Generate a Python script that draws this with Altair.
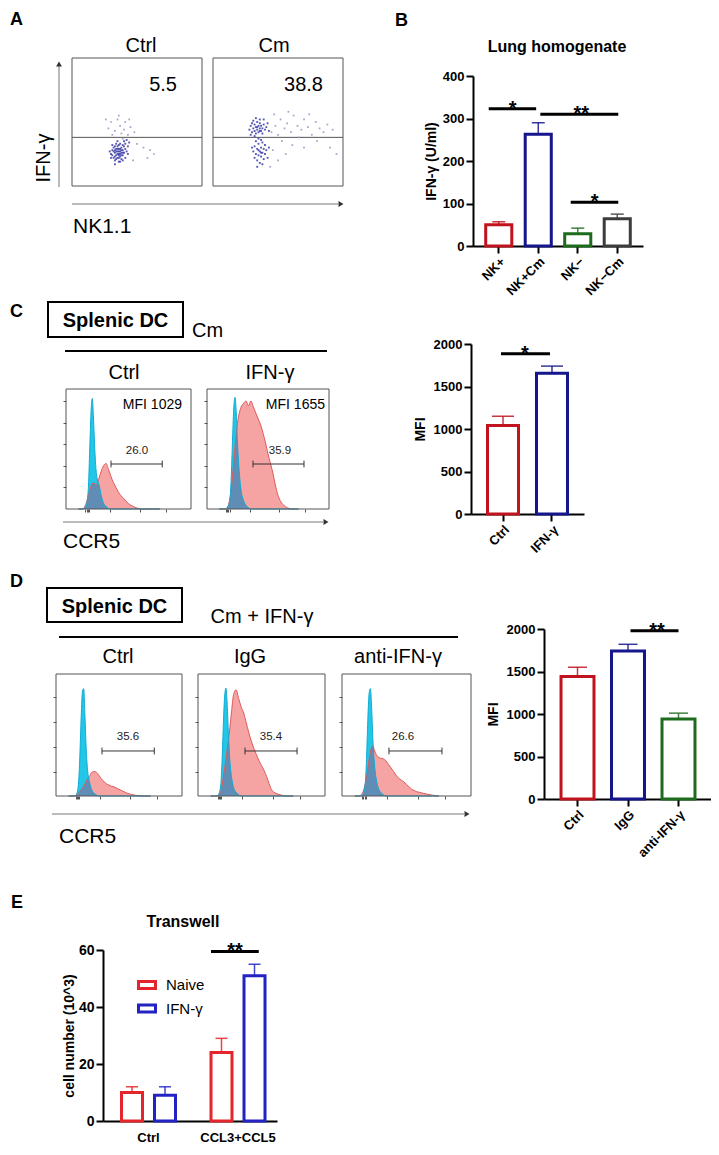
import altair as alt
import pandas as pd

W, H = 703, 1139      # drawing area; the page adds an 8px margin
M = 8
FONT = "Liberation Sans"

# ================================================================ DATA
# ---- A: IFN-γ vs NK1.1 dot plots (events as fractions of each frame)
a_titles = ["Ctrl", "Cm"]
a_percent = ["5.5", "38.8"]
a_gate = 0.38
a_ctrl_dense = [
    (0.30, 0.25), (0.31, 0.28), (0.32, 0.22), (0.32, 0.30), (0.33, 0.26), (0.33, 0.20), (0.34, 0.24),
    (0.34, 0.29), (0.34, 0.33), (0.35, 0.27), (0.35, 0.22), (0.35, 0.31), (0.36, 0.25), (0.36, 0.19),
    (0.36, 0.29), (0.37, 0.27), (0.37, 0.23), (0.37, 0.33), (0.38, 0.26), (0.38, 0.30), (0.38, 0.21),
    (0.39, 0.28), (0.39, 0.24), (0.40, 0.31), (0.40, 0.26), (0.41, 0.29), (0.41, 0.22), (0.42, 0.27),
    (0.31, 0.24), (0.32, 0.27), (0.33, 0.31), (0.34, 0.21), (0.35, 0.25), (0.36, 0.32), (0.36, 0.22),
    (0.37, 0.29), (0.38, 0.24), (0.39, 0.32), (0.40, 0.35), (0.41, 0.33), (0.42, 0.36), (0.43, 0.31),
    (0.44, 0.34), (0.29, 0.27), (0.30, 0.22), (0.33, 0.17), (0.35, 0.35), (0.37, 0.19), (0.39, 0.20),
    (0.43, 0.25), (0.31, 0.32), (0.33, 0.23), (0.34, 0.27), (0.36, 0.27), (0.37, 0.25), (0.38, 0.28),
    (0.35, 0.29), (0.33, 0.28), (0.39, 0.26), (0.36, 0.24)]
a_ctrl_sparse = [
    (0.28, 0.45), (0.30, 0.50), (0.33, 0.43), (0.35, 0.52), (0.37, 0.47), (0.38, 0.41), (0.40, 0.44),
    (0.41, 0.50), (0.43, 0.40), (0.45, 0.46), (0.36, 0.55), (0.31, 0.40), (0.48, 0.42), (0.44, 0.52),
    (0.55, 0.30), (0.60, 0.28), (0.63, 0.25), (0.58, 0.22), (0.50, 0.33), (0.47, 0.20), (0.26, 0.52),
    (0.39, 0.37)]
a_cm_dense = [
    (0.28, 0.44), (0.29, 0.47), (0.30, 0.42), (0.30, 0.49), (0.31, 0.45), (0.32, 0.43), (0.32, 0.48),
    (0.33, 0.46), (0.33, 0.41), (0.34, 0.44), (0.34, 0.50), (0.35, 0.47), (0.35, 0.42), (0.36, 0.45),
    (0.36, 0.49), (0.37, 0.43), (0.37, 0.47), (0.38, 0.45), (0.38, 0.41), (0.39, 0.48), (0.40, 0.44),
    (0.41, 0.46), (0.31, 0.51), (0.33, 0.53), (0.36, 0.52), (0.39, 0.52), (0.42, 0.49), (0.43, 0.43),
    (0.29, 0.40), (0.32, 0.39), (0.31, 0.27), (0.32, 0.22), (0.32, 0.31), (0.33, 0.25), (0.34, 0.29),
    (0.34, 0.20), (0.35, 0.24), (0.35, 0.33), (0.36, 0.27), (0.36, 0.18), (0.37, 0.30), (0.37, 0.23),
    (0.38, 0.26), (0.38, 0.34), (0.39, 0.21), (0.39, 0.29), (0.40, 0.25), (0.40, 0.32), (0.41, 0.28),
    (0.33, 0.35), (0.35, 0.37), (0.37, 0.36), (0.34, 0.15), (0.38, 0.17), (0.42, 0.22), (0.30, 0.30),
    (0.43, 0.30), (0.35, 0.28), (0.37, 0.26), (0.34, 0.46), (0.36, 0.43)]
a_cm_sparse = [
    (0.45, 0.42), (0.48, 0.47), (0.50, 0.40), (0.52, 0.52), (0.55, 0.45), (0.57, 0.49), (0.60, 0.42),
    (0.62, 0.55), (0.65, 0.47), (0.68, 0.44), (0.70, 0.52), (0.73, 0.46), (0.76, 0.40), (0.79, 0.50),
    (0.82, 0.45), (0.85, 0.42), (0.88, 0.48), (0.92, 0.44), (0.47, 0.56), (0.58, 0.58), (0.66, 0.38),
    (0.74, 0.56), (0.53, 0.35), (0.61, 0.32), (0.70, 0.30), (0.80, 0.35), (0.90, 0.30), (0.95, 0.25),
    (0.46, 0.28), (0.50, 0.20), (0.56, 0.25), (0.44, 0.15)]

# ---- B: lung homogenate IFN-γ
b_groups = ["NK+", "NK+Cm", "NK−", "NK−Cm"]
b_mean = [50, 263, 29, 64]
b_upper = [57, 290, 42, 75]
b_sig_from = ["NK+", "NK+Cm", "NK−"]
b_sig_to = ["NK+Cm", "NK−Cm", "NK−Cm"]
b_sig_y = [323, 310, 103]
b_sig_text = ["*", "**", "*"]

# ---- histograms (CCR5 intensity as fraction of frame, normalised count)
hist_x = [0.10, 0.13, 0.15, 0.165, 0.18, 0.19, 0.20, 0.21, 0.22, 0.23, 0.24, 0.25, 0.265, 0.28, 0.30,
          0.32, 0.34, 0.36, 0.38, 0.40, 0.42, 0.44, 0.46, 0.48, 0.50, 0.52, 0.54, 0.56, 0.58, 0.60,
          0.63, 0.66, 0.70, 0.75]
c1_iso = [0, 0, 0.01, 0.04, 0.2, 0.5, 0.8, 0.92, 0.75, 0.5, 0.33, 0.25, 0.2, 0.12, 0.05, 0.02, 0.005,
          0, 0, 0, 0, 0, 0, 0, 0, 0, 0, 0, 0, 0, 0, 0, 0, 0]
c1_ccr5 = [0, 0, 0.02, 0.06, 0.12, 0.16, 0.19, 0.21, 0.22, 0.21, 0.2, 0.21, 0.26, 0.31, 0.36, 0.38,
           0.33, 0.27, 0.22, 0.18, 0.14, 0.11, 0.09, 0.065, 0.045, 0.03, 0.02, 0.01, 0.005, 0, 0, 0, 0, 0]
c2_iso = [0, 0, 0, 0.01, 0.04, 0.1, 0.3, 0.6, 0.85, 0.93, 0.8, 0.55, 0.3, 0.15, 0.07, 0.03, 0.01,
          0, 0, 0, 0, 0, 0, 0, 0, 0, 0, 0, 0, 0, 0, 0, 0, 0]
c2_ccr5 = [0, 0, 0, 0.01, 0.05, 0.1, 0.18, 0.28, 0.4, 0.52, 0.63, 0.72, 0.8, 0.85, 0.88, 0.9, 0.86,
           0.9, 0.85, 0.8, 0.75, 0.7, 0.63, 0.55, 0.46, 0.38, 0.3, 0.2, 0.12, 0.07, 0.03, 0.01, 0, 0]
d1_iso = [0, 0, 0, 0.02, 0.12, 0.35, 0.65, 0.86, 0.88, 0.65, 0.38, 0.22, 0.12, 0.06, 0.025, 0.01, 0,
          0, 0, 0, 0, 0, 0, 0, 0, 0, 0, 0, 0, 0, 0, 0, 0, 0]
d1_ccr5 = [0, 0, 0, 0.01, 0.02, 0.04, 0.05, 0.07, 0.08, 0.1, 0.12, 0.14, 0.16, 0.19, 0.2, 0.195, 0.17,
           0.14, 0.12, 0.1, 0.09, 0.08, 0.075, 0.065, 0.055, 0.045, 0.035, 0.025, 0.018, 0.012,
           0.006, 0.002, 0, 0]
d2_iso = [0, 0, 0, 0.02, 0.1, 0.3, 0.6, 0.82, 0.885, 0.75, 0.5, 0.3, 0.15, 0.07, 0.03, 0.01, 0,
          0, 0, 0, 0, 0, 0, 0, 0, 0, 0, 0, 0, 0, 0, 0, 0, 0]
d2_ccr5 = [0, 0, 0, 0.01, 0.04, 0.09, 0.16, 0.23, 0.3, 0.38, 0.46, 0.55, 0.7, 0.83, 0.87, 0.8, 0.73,
           0.68, 0.6, 0.52, 0.45, 0.39, 0.34, 0.29, 0.25, 0.21, 0.16, 0.1, 0.05, 0.03, 0.015, 0.006, 0, 0]
d3_iso = [0, 0, 0, 0.02, 0.1, 0.3, 0.62, 0.84, 0.88, 0.72, 0.45, 0.28, 0.14, 0.07, 0.03, 0.01, 0,
          0, 0, 0, 0, 0, 0, 0, 0, 0, 0, 0, 0, 0, 0, 0, 0, 0]
d3_ccr5 = [0, 0, 0.01, 0.04, 0.1, 0.16, 0.22, 0.3, 0.36, 0.4, 0.41, 0.38, 0.34, 0.32, 0.31, 0.305,
           0.29, 0.26, 0.23, 0.2, 0.17, 0.145, 0.13, 0.115, 0.095, 0.075, 0.055, 0.045, 0.035, 0.03,
           0.022, 0.015, 0.007, 0]

# ---- C
c_titles = ["Ctrl", "IFN-γ"]
c_mfi = ["MFI 1029", "MFI 1655"]
c_gate_text = ["26.0", "35.9"]
c_gate_lo = [0.36, 0.377]
c_gate_hi = [0.77, 0.795]
c_gate_y = 0.375
c_groups = ["Ctrl", "IFN-γ"]
c_mean = [1040, 1655]
c_upper = [1150, 1740]
c_sig_y = 1885

# ---- D
d_titles = ["Ctrl", "IgG", "anti-IFN-γ"]
d_gate_text = ["35.6", "35.4", "26.6"]
d_gate_lo = [0.365, 0.37, 0.364]
d_gate_hi = [0.78, 0.78, 0.775]
d_gate_y = 0.369
d_groups = ["Ctrl", "IgG", "anti-IFN-γ"]
d_mean = [1440, 1740, 940]
d_upper = [1550, 1820, 1010]
d_sig_y = 1980

# ---- E
e_groups = ["Ctrl", "CCL3+CCL5"]
e_series = ["Naive", "IFN-γ"]
e_naive = [10, 24]
e_naive_upper = [12, 29]
e_ifn = [9, 51]
e_ifn_upper = [12, 55]
e_sig_y = 59.5

# ================================================================ STYLE
RED, NAVY, GREEN, GREY = "#c1131d", "#15158c", "#1d6c1d", "#3c3c3c"
E_COLORS = ["#e4262c", "#2323c4"]
ISO_FILL, ISO_LINE = "#22c6e6", "#12acd6"
POS_FILL, POS_LINE = "#f5a3a3", "#e05a5a"
OVERLAP = "#5f8db5"
C_YTICKS = [0.18, 0.36, 0.54, 0.72, 0.9]
D_YTICKS = [0.2, 0.405, 0.61, 0.81]


def lin(dom, rng):
    return alt.Scale(domain=dom, range=[v - M for v in rng], nice=False, zero=False)


CX = lin([M, M + W], [M, M + W])
CY = lin([M, M + H], [M, M + H])


# ---------------------------------------------------------------- canvas
def ctext(rows, color="black", **kw):
    df = pd.DataFrame(rows, columns=["t", "x", "y"])
    return alt.Chart(df).mark_text(font=FONT, color=color, baseline="alphabetic", **kw).encode(
        x=alt.X("x:Q", scale=CX, axis=None), y=alt.Y("y:Q", scale=CY, axis=None), text="t:N")


def crules(rows, **kw):
    df = pd.DataFrame(rows, columns=["x", "x2", "y", "y2"])
    return alt.Chart(df).mark_rule(**kw).encode(
        x=alt.X("x:Q", scale=CX, axis=None), x2="x2:Q",
        y=alt.Y("y:Q", scale=CY, axis=None), y2="y2:Q")


def cboxes(rows):
    df = pd.DataFrame(rows, columns=["x", "x2", "y", "y2"])
    return alt.Chart(df).mark_rect(fill="transparent", stroke="black", strokeWidth=2).encode(
        x=alt.X("x:Q", scale=CX, axis=None), x2="x2:Q",
        y=alt.Y("y:Q", scale=CY, axis=None), y2="y2:Q")


def carrow(rows, shape):
    df = pd.DataFrame(rows, columns=["x", "y"])
    return alt.Chart(df).mark_point(shape=shape, filled=True, size=34, color="#333", opacity=1).encode(
        x=alt.X("x:Q", scale=CX, axis=None), y=alt.Y("y:Q", scale=CY, axis=None))


canvas = alt.layer(
    ctext([(t, x, y) for t, x, y in zip("ABCDE", [10, 395, 10, 10, 11], [25, 26, 317, 587, 908])],
          fontSize=18, fontWeight="bold", align="left"),
    ctext([(a_titles[0], 141, 52), (a_titles[1], 274, 52),
           (c_titles[0], 124, 379), (c_titles[1], 270, 379),
           (d_titles[0], 118, 663), (d_titles[1], 250, 663), (d_titles[2], 398, 663),
           ("Cm + IFN-γ", 262, 623)], fontSize=20, align="center"),
    ctext([("NK1.1", 73, 233), ("CCR5", 63, 548), ("CCR5", 59, 843)], fontSize=21, align="left"),
    ctext([("Cm", 192, 337)], fontSize=20, align="left"),
    ctext([(a_percent[0], 177, 91), (a_percent[1], 323, 91)], fontSize=20, align="right"),
    ctext([("IFN-γ", 50, 158)], fontSize=20, align="center", angle=270),
    ctext([("Splenic DC", 115.5, 327), ("Splenic DC", 114.5, 613)], fontSize=20, fontWeight="bold",
          align="center"),
    ctext([("Lung homogenate", 557, 52), ("Transwell", 183, 927)], fontSize=16, fontWeight="bold",
          align="center"),
    ctext([(c_mfi[0], 182, 409), (c_mfi[1], 325, 409)], fontSize=14, align="right"),
    ctext([(c_gate_text[0], 137, 454), (c_gate_text[1], 280, 454),
           (d_gate_text[0], 128, 740), (d_gate_text[1], 271, 740), (d_gate_text[2], 403, 740)],
          color="#222", fontSize=11.5, align="center"),
    crules([(59, 59, 187, 66), (72, 338, 204, 204), (63, 323, 522, 522), (52, 464, 814, 814)],
           color="#777", strokeWidth=1),
    crules([(65, 327, 351, 351), (59, 458, 637, 637)], color="black", strokeWidth=2),
    cboxes([(48, 183, 302, 337), (47, 182, 588, 622)]),
    carrow([(59, 64)], "triangle-up"),
    carrow([(341, 204), (326, 522), (467, 814)], "triangle-right"),
)


# ---------------------------------------------------------------- flow panels
FRAME = pd.DataFrame({"x0": [0], "x1": [1], "y0": [0], "y1": [1]})


def frame_scales(box):
    left, right, top, bottom = box
    return lin([0, 1], [left, right]), lin([0, 1], [bottom, top])


def frame(sx, sy, box, yticks=None):
    xa, ya = None, None
    if yticks:
        left, right, top, bottom = box
        common = dict(labels=False, domain=False, tickSize=3, tickColor="#555", tickWidth=1,
                      title=None, grid=False)
        ya = alt.Axis(orient="left", offset=-(left - M), values=yticks, **common)
        xa = alt.Axis(orient="bottom", offset=(bottom - M) - H,
                      values=[0.155, 0.165, 0.175, 0.185, 0.35, 0.59, 0.8], **common)
    return alt.Chart(FRAME).mark_rect(fill="transparent", stroke="#555", strokeWidth=1).encode(
        x=alt.X("x0:Q", scale=sx, axis=xa), x2="x1:Q",
        y=alt.Y("y0:Q", scale=sy, axis=ya), y2="y1:Q")


def dot_panel(box, dense, sparse):
    sx, sy = frame_scales(box)
    gate = pd.DataFrame({"x0": [0], "x1": [1], "y": [a_gate]})
    dd = pd.DataFrame(dense, columns=["x", "y"])
    ds = pd.DataFrame(sparse, columns=["x", "y"])
    return alt.layer(
        frame(sx, sy, box),
        alt.Chart(gate).mark_rule(color="#555", strokeWidth=1).encode(
            x=alt.X("x0:Q", scale=sx, axis=None), x2="x1:Q", y=alt.Y("y:Q", scale=sy, axis=None)),
        alt.Chart(ds).mark_square(size=3, color="#9a9ac6", opacity=0.9).encode(
            x=alt.X("x:Q", scale=sx, axis=None), y=alt.Y("y:Q", scale=sy, axis=None)),
        alt.Chart(dd).mark_square(size=3.5, color="#3a3aa6", opacity=0.85).encode(
            x=alt.X("x:Q", scale=sx, axis=None), y=alt.Y("y:Q", scale=sy, axis=None)),
    )


def hist_panel(box, iso, pos, lo, hi, gy, yticks):
    # only the frame layer carries the (tick-only) axes; other layers leave axis unset
    sx, sy = frame_scales(box)
    df = pd.DataFrame({"x": hist_x, "iso": iso, "pos": pos})
    base = alt.Chart(df).encode(x=alt.X("x:Q", scale=sx))
    gate = pd.DataFrame({"lo": [lo], "hi": [hi], "y": [gy]})
    caps = pd.DataFrame({"x": [lo, hi], "ya": [gy - 0.028] * 2, "yb": [gy + 0.028] * 2})
    return alt.layer(
        base.mark_area(color=POS_FILL, interpolate="monotone").encode(y=alt.Y("pos:Q", scale=sy)),
        base.mark_area(color=ISO_FILL, interpolate="monotone").encode(y=alt.Y("iso:Q", scale=sy)),
        base.transform_calculate(ov="min(datum.iso, datum.pos)").mark_area(
            color=OVERLAP, interpolate="monotone").encode(y=alt.Y("ov:Q", scale=sy)),
        base.mark_line(color=POS_LINE, strokeWidth=1, interpolate="monotone").encode(
            y=alt.Y("pos:Q", scale=sy)),
        base.mark_line(color=ISO_LINE, strokeWidth=1, interpolate="monotone").encode(
            y=alt.Y("iso:Q", scale=sy)),
        frame(sx, sy, box, yticks=yticks),
        alt.Chart(gate).mark_rule(color="#333", strokeWidth=1).encode(
            x=alt.X("lo:Q", scale=sx), x2="hi:Q", y=alt.Y("y:Q", scale=sy)),
        alt.Chart(caps).mark_rule(color="#333", strokeWidth=1).encode(
            x=alt.X("x:Q", scale=sx), y=alt.Y("ya:Q", scale=sy), y2="yb:Q"),
    )


# ---------------------------------------------------------------- bar panels
def axis_y(x_px, values, title, tpad, lsize=13):
    return alt.Axis(orient="left", offset=-(x_px - M), values=values, format="d", title=title,
                    titlePadding=tpad, titleFont=FONT, titleFontSize=14, titleFontWeight="bold",
                    titleColor="black", labelFont=FONT, labelFontSize=lsize, labelFontWeight="bold",
                    labelColor="black", labelPadding=2, tickSize=7, tickWidth=2, tickColor="black",
                    domainWidth=2, domainColor="black", grid=False)


def axis_x(y_px, angle=-45, ticks=True, lsize=13, pad=2):
    return alt.Axis(orient="bottom", offset=(y_px - M) - H, labelAngle=angle, title=None,
                    labelFont=FONT, labelFontSize=lsize, labelFontWeight="bold", labelColor="black",
                    labelPadding=pad, ticks=ticks, tickSize=7 if ticks else 0, tickWidth=2,
                    tickColor="black", domainWidth=2, domainColor="black", grid=False)


def bar_panel(cats, means, uppers, colors, xr, pi, po, y0, y1, ymax, yvals, ytitle, tpad, cap, sigs):
    sx = alt.Scale(domain=cats, range=[xr[0] - M, xr[1] - M], paddingInner=pi, paddingOuter=po)
    sy = lin([0, ymax], [y0, y1])
    df = pd.DataFrame({"g": cats, "m": means, "u": uppers, "c": colors})
    layers = [
        alt.Chart(df).mark_bar(fill="white", strokeWidth=3).encode(
            x=alt.X("g:N", scale=sx, sort=cats, axis=axis_x(y0)),
            y=alt.Y("m:Q", scale=sy, axis=axis_y(xr[0], yvals, ytitle, tpad)),
            stroke=alt.Stroke("c:N", scale=None)),
        alt.Chart(df).mark_rule(strokeWidth=1.5, opacity=0.85).encode(
            x=alt.X("g:N", scale=sx, sort=cats),
            y=alt.Y("m:Q", scale=sy), y2="u:Q",
            stroke=alt.Stroke("c:N", scale=None)),
        alt.Chart(df).mark_tick(size=cap, thickness=1.5, opacity=0.85).encode(
            x=alt.X("g:N", scale=sx, sort=cats),
            y=alt.Y("u:Q", scale=sy),
            color=alt.Color("c:N", scale=None)),
    ]
    for a, b, v, txt, bpa, bpb, dx in sigs:
        sd = pd.DataFrame({"a": [a], "b": [b], "v": [v], "t": [txt]})
        layers.append(alt.Chart(sd).mark_rule(color="black", strokeWidth=3).encode(
            x=alt.X("a:N", scale=sx, sort=cats, bandPosition=bpa),
            x2=alt.X2("b", bandPosition=bpb),
            y=alt.Y("v:Q", scale=sy)))
        layers.append(alt.Chart(sd).mark_text(font=FONT, fontSize=20, fontWeight="bold", color="black",
                                              baseline="alphabetic", dx=dx, dy=6).encode(
            x=alt.X("a:N", scale=sx, sort=cats),
            y=alt.Y("v:Q", scale=sy), text="t:N"))
    return alt.layer(*layers)


panel_b = bar_panel(
    b_groups, b_mean, b_upper, [RED, NAVY, GREEN, GREY], (473, 643), 0.34, 0.322, 246, 76, 400,
    [0, 100, 200, 300, 400], "IFN-γ (U/ml)", 4, 13,
    [(b_sig_from[0], b_sig_to[0], b_sig_y[0], b_sig_text[0], 0.115, 0.42, 14),
     (b_sig_from[1], b_sig_to[1], b_sig_y[1], b_sig_text[1], 0.58, 0.54, 43),
     (b_sig_from[2], b_sig_to[2], b_sig_y[2], b_sig_text[2], 0.23, 0.54, 17)])

panel_c = bar_panel(
    c_groups, c_mean, c_upper, [RED, NAVY], (471, 584), 0.367, 0.337, 514, 344, 2000,
    [0, 500, 1000, 1500, 2000], "MFI", 6, 22,
    [(c_groups[0], c_groups[1], c_sig_y, "*", 0.435, 0.435, 22)])

panel_d = bar_panel(
    d_groups, d_mean, d_upper, [RED, NAVY, GREEN], (544, 712), 0.347, 0.337, 799, 629, 2000,
    [0, 500, 1000, 1500, 2000], "MFI", 6, 19,
    [(d_groups[1], d_groups[2], d_sig_y, "**", 0.576, 0.5, 29)])

# ---- E grouped bars
e_rows = []
for i, g in enumerate(e_groups):
    e_rows.append((g, e_series[0], e_naive[i], e_naive_upper[i], E_COLORS[0]))
    e_rows.append((g, e_series[1], e_ifn[i], e_ifn_upper[i], E_COLORS[1]))
e_df = pd.DataFrame(e_rows, columns=["g", "s", "m", "u", "c"])
ex = alt.Scale(domain=e_groups, range=[103 - M, 277 - M], paddingInner=0.2514, paddingOuter=0.0977,
               align=0.686)
ey = lin([0, 60], [1121, 950])
eoff = alt.XOffset("s:N", sort=e_series,
                   scale=alt.Scale(domain=e_series, paddingInner=0.364, paddingOuter=0.197))
e_legend = alt.Legend(orient="none", legendX=129, legendY=967, title=None,
                      symbolType="M-1,-0.42H1V0.42H-1Z", symbolSize=289, symbolStrokeWidth=3,
                      symbolFillColor="white", labelFont=FONT, labelFontSize=15, labelColor="black",
                      labelOffset=9, rowPadding=3.5, padding=0)
e_sig = pd.DataFrame({"a": [e_groups[1]], "v": [e_sig_y], "t": ["**"]})
panel_e = alt.layer(
    alt.Chart(e_df).mark_bar(fill="white", strokeWidth=3).encode(
        x=alt.X("g:N", scale=ex, sort=e_groups, axis=axis_x(1121, angle=0, ticks=False, lsize=13, pad=10)),
        xOffset=eoff,
        y=alt.Y("m:Q", scale=ey, axis=axis_y(103, [0, 20, 40, 60], "cell number (10^3)", 2, lsize=14)),
        stroke=alt.Stroke("s:N", scale=alt.Scale(domain=e_series, range=E_COLORS), legend=e_legend)),
    alt.Chart(e_df).mark_rule(strokeWidth=1.5, opacity=0.85).encode(
        x=alt.X("g:N", scale=ex, sort=e_groups), xOffset=eoff,
        y=alt.Y("m:Q", scale=ey), y2="u:Q",
        stroke=alt.Stroke("s:N", scale=alt.Scale(domain=e_series, range=E_COLORS), legend=None)),
    alt.Chart(e_df).mark_tick(size=12, thickness=1.5, opacity=0.85).encode(
        x=alt.X("g:N", scale=ex, sort=e_groups), xOffset=eoff,
        y=alt.Y("u:Q", scale=ey), color=alt.Color("c:N", scale=None)),
    alt.Chart(e_sig).mark_rule(color="black", strokeWidth=3).encode(
        x=alt.X("a:N", scale=ex, sort=e_groups, bandPosition=0.097),
        x2=alt.X2("a", bandPosition=0.81), y=alt.Y("v:Q", scale=ey)),
    alt.Chart(e_sig).mark_text(font=FONT, fontSize=20, fontWeight="bold", color="black",
                               baseline="alphabetic", dx=-3, dy=6).encode(
        x=alt.X("a:N", scale=ex, sort=e_groups),
        y=alt.Y("v:Q", scale=ey), text="t:N"),
)

# ---------------------------------------------------------------- assemble
panels = [
    canvas,
    dot_panel((72, 202, 58, 186), a_ctrl_dense, a_ctrl_sparse),
    dot_panel((213, 343, 58, 186), a_cm_dense, a_cm_sparse),
    hist_panel((66, 191, 389, 509), c1_iso, c1_ccr5, c_gate_lo[0], c_gate_hi[0], c_gate_y, C_YTICKS),
    hist_panel((207, 329, 389, 509), c2_iso, c2_ccr5, c_gate_lo[1], c_gate_hi[1], c_gate_y, C_YTICKS),
    hist_panel((56, 182, 674, 796), d1_iso, d1_ccr5, d_gate_lo[0], d_gate_hi[0], d_gate_y, D_YTICKS),
    hist_panel((198, 325, 674, 796), d2_iso, d2_ccr5, d_gate_lo[1], d_gate_hi[1], d_gate_y, D_YTICKS),
    hist_panel((342, 471, 674, 796), d3_iso, d3_ccr5, d_gate_lo[2], d_gate_hi[2], d_gate_y, D_YTICKS),
    panel_b, panel_c, panel_d, panel_e,
]

chart = alt.layer(*panels).resolve_scale(
    x="independent", y="independent", stroke="independent", color="independent"
).resolve_axis(x="independent", y="independent").properties(
    width=W, height=H, padding=0, autosize=alt.AutoSizeParams(type="none"),
    background="white",
).configure_view(strokeWidth=0).configure_text(font=FONT)

chart.save("out.html", embed_options={"renderer": "svg", "actions": False})
